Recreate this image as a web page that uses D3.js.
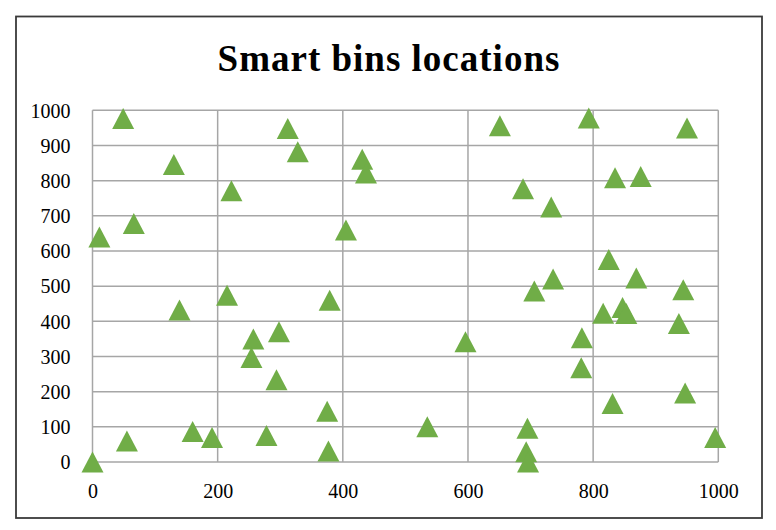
<!DOCTYPE html>
<html>
<head>
<meta charset="utf-8">
<script src="https://cdn.jsdelivr.net/npm/d3@7"></script>
<style>
  body { margin: 0; background: #fff; }
  svg text { font-family: "Liberation Serif", "DejaVu Serif", serif; fill: #000; }
</style>
</head>
<body>
<svg id="chart" width="776" height="530"></svg>
<script>
// bin positions
const binX = [0, 49, 11, 66, 130, 222, 312, 328, 431, 437, 405, 215, 379, 139,
  257, 298, 254, 294, 375, 377, 55, 160, 191, 278,
  651, 793, 950, 835, 876, 688, 733, 825, 736, 869, 706, 944,
  816, 847, 853, 937, 596, 782, 781, 947, 831, 535, 695, 693, 696, 995];
const binY = [0, 977, 640, 678, 846, 771, 948, 882, 861, 822, 660, 474, 460, 432,
  350, 370, 297, 234, 144, 31, 60, 87, 70, 75,
  956, 978, 950, 808, 812, 777, 725, 576, 520, 523, 486, 490,
  423, 439, 422, 394, 342, 353, 268, 196, 166, 100, 96, 29, 0, 70];
const xTicks = [0, 200, 400, 600, 800, 1000];
const yTicks = [0, 100, 200, 300, 400, 500, 600, 700, 800, 900, 1000];

const svg = d3.select('#chart');

// outer frame
svg.append('rect')
    .attr('x', 16).attr('y', 16.5)
    .attr('width', 746).attr('height', 501.5)
    .attr('fill', 'none')
    .attr('stroke', '#3a3a3a')
    .attr('stroke-width', 1.8);

svg.append('text')
    .attr('x', 389)
    .attr('y', 71)
    .attr('text-anchor', 'middle')
    .style('font-size', '37px')
    .style('font-weight', 'bold')
    .style('letter-spacing', '1px')
    .text('Smart bins locations');

const xScale = d3.scaleLinear().domain([0, 1000]).range([92.5, 718.3]);
const yScale = d3.scaleLinear().domain([0, 1000]).range([462, 110.3]);

// grid lines
svg.append('g')
    .selectAll('line')
    .data(yTicks)
    .join('line')
    .attr('x1', xScale(0)).attr('x2', xScale(1000))
    .attr('y1', d => yScale(d)).attr('y2', d => yScale(d))
    .attr('stroke', '#a6a6a6')
    .attr('stroke-width', 1.5);

svg.append('g')
    .selectAll('line')
    .data(xTicks)
    .join('line')
    .attr('x1', d => xScale(d)).attr('x2', d => xScale(d))
    .attr('y1', yScale(0)).attr('y2', yScale(1000))
    .attr('stroke', '#a6a6a6')
    .attr('stroke-width', 1.5);

// axes (labels only)
const fmt = d3.format('d');
const yAxis = svg.append('g')
    .attr('transform', `translate(${xScale(0) - 8}, 0)`)
    .call(d3.axisLeft(yScale).tickValues(yTicks).tickFormat(fmt).tickSize(0).tickPadding(14));
yAxis.select('.domain').remove();
yAxis.selectAll('text')
    .style('font-size', '20px')
    .attr('dy', '0.34em');

const xAxis = svg.append('g')
    .attr('transform', `translate(0, ${yScale(0)})`)
    .call(d3.axisBottom(xScale).tickValues(xTicks).tickFormat(fmt).tickSize(0).tickPadding(22));
xAxis.select('.domain').remove();
xAxis.selectAll('text')
    .style('font-size', '20px');

// triangle markers, centred on their bounding box
const tri = 'M0,-10.5L11,10.5L-11,10.5Z';
svg.append('g')
    .selectAll('path')
    .data(d3.range(binX.length))
    .join('path')
    .attr('d', tri)
    .attr('transform', i => `translate(${xScale(binX[i])}, ${yScale(binY[i])})`)
    .attr('fill', '#70ad47');
</script>
</body>
</html>
